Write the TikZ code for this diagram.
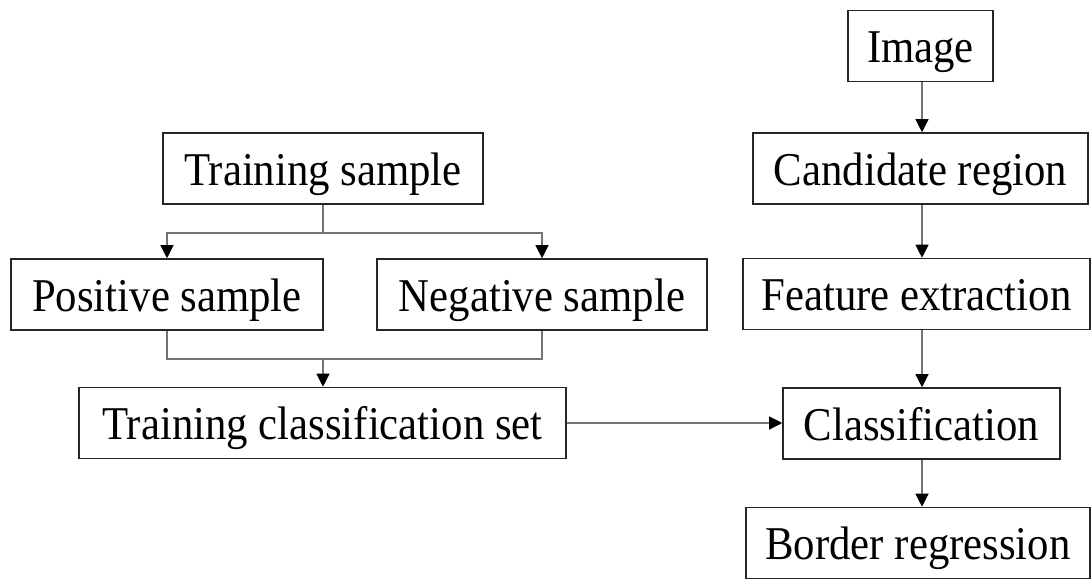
\documentclass[tikz,border=0pt]{standalone}
\usepackage{fontspec}
\setmainfont{Liberation Serif}[FakeStretch=0.91]
\usetikzlibrary{arrows.meta}

\tikzset{
  stage/.style={draw=black!85, line width=0.8pt, minimum height=35.5pt, inner sep=0pt,
    text height=20pt, text depth=3.5pt, font=\fontsize{23.5}{26}\selectfont},
  link/.style={draw=black!55, line width=0.6pt},
  flow/.style={link, -{Triangle[length=6.5pt,width=6.5pt,color=black]}}
}

\begin{document}
\begin{tikzpicture}[x=0.5pt,y=-0.5pt]
        \useasboundingbox (0,0) rectangle (1091,579);
        % detection column
        \node[stage, minimum width=72.5pt]  (image)  at (920.5,46)    {Image};
        \node[stage, minimum width=167.5pt] (cand)   at (920.5,168.5) {Candidate region};
        \node[stage, minimum width=173.5pt] (feat)   at (916.5,294)   {Feature extraction};
        \node[stage, minimum width=138.5pt] (cls)    at (921.5,423.5) {Classification};
        \node[stage, minimum width=172pt]   (border) at (918,543)     {Border regression};
        % training side
        \node[stage, minimum width=160pt]   (train)  at (323,168.5)   {Training sample};
        \node[stage, minimum width=156pt]   (pos)    at (167,294.5)   {Positive sample};
        \node[stage, minimum width=165pt]   (neg)    at (542,294.5)   {Negative sample};
        \node[stage, minimum width=243.5pt] (tcs)    at (322.5,423)   {Training classification set};

        \coordinate (col) at (922,0);
        \coordinate (split) at (323,233);
        \coordinate (merge) at (323,359);

        \draw[flow] (image.south -| col) -- (cand.north -| col);
        \draw[flow] (cand.south -| col) -- (feat.north -| col);
        \draw[flow] (feat.south -| col) -- (cls.north -| col);
        \draw[flow] (cls.south -| col) -- (border.north -| col);

        \draw[link] (train.south -| split) -- (split);
        \draw[flow] (split) -| (pos.north);
        \draw[flow] (split) -| (neg.north);
        \draw[link] (pos.south) |- (merge);
        \draw[link] (neg.south) |- (merge);
        \draw[flow] (merge) -- (tcs.north -| merge);
        \draw[flow] (tcs.east) -- (cls.west |- tcs.east);
    \end{tikzpicture}
\end{document}
